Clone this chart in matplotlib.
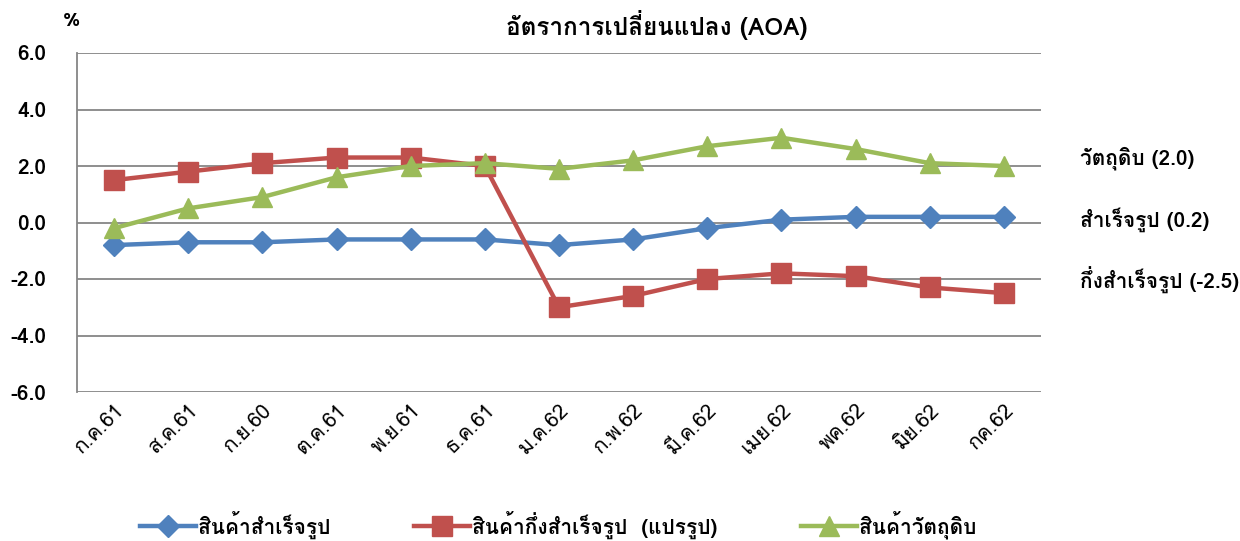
import matplotlib
matplotlib.use("Agg")
import matplotlib.pyplot as plt
from matplotlib import font_manager
from matplotlib.ft2font import FT2Font

categories = ["ก.ค.61", "ส.ค.61", "ก.ย.60", "ต.ค.61", "พ.ย.61", "ธ.ค.61", "ม.ค.62",
              "ก.พ.62", "มี.ค.62", "เมย.62", "พค.62", "มิย.62", "กค.62"]
finished = [-0.8, -0.7, -0.7, -0.6, -0.6, -0.6, -0.8, -0.6, -0.2, 0.1, 0.2, 0.2, 0.2]
semi = [1.5, 1.8, 2.1, 2.3, 2.3, 2.0, -3.0, -2.6, -2.0, -1.8, -1.9, -2.3, -2.5]
raw = [-0.2, 0.5, 0.9, 1.6, 2.0, 2.1, 1.9, 2.2, 2.7, 3.0, 2.6, 2.1, 2.0]
series_names = ["สินค้าสำเร็จรูป", "สินค้ากึ่งสำเร็จรูป  (แปรรูป)", "สินค้าวัตถุดิบ"]
yticks = [-6.0, -4.0, -2.0, 0.0, 2.0, 4.0, 6.0]
title = "อัตราการเปลี่ยนแปลง (AOA)"
notes = ["วัตถุดิบ (2.0)", "สำเร็จรูป (0.2)", "กึ่งสำเร็จรูป (-2.5)"]

# find a font with Thai glyphs
thai_family = None
seen = set()
for f in font_manager.fontManager.ttflist:
    if f.fname in seen:
        continue
    seen.add(f.fname)
    try:
        cm = FT2Font(f.fname).get_charmap()
    except Exception:
        continue
    if 0x0E01 in cm and 0x0E2A in cm:
        thai_family = f.name
        break
fams = ([thai_family] if thai_family else []) + ["DejaVu Sans"]
plt.rcParams["font.family"] = fams

fig = plt.figure(figsize=(12.4, 5.41), dpi=100)
ax = fig.add_axes([77/1240, 1 - 392/541, (1041-77)/1240, (392-53)/541])

x = list(range(len(categories)))
ax.plot(x, finished, color="#4F81BD", lw=3.2, marker="D", ms=11, label=series_names[0], zorder=3)
ax.plot(x, semi, color="#C0504D", lw=3.2, marker="s", ms=14, label=series_names[1], zorder=3)
ax.plot(x, raw, color="#9BBB59", lw=3.2, marker="^", ms=14, label=series_names[2], zorder=3)

ax.set_xlim(-0.5, len(categories) - 0.5)
ax.set_ylim(-6, 6)
ax.set_yticks(yticks)
ax.set_yticklabels([f"{v:.1f}" for v in yticks], fontsize=15, fontweight="bold")
ax.yaxis.grid(True, color="#868686", lw=1.3)
ax.set_axisbelow(True)
for s in ["top", "right", "bottom"]:
    ax.spines[s].set_visible(False)
ax.spines["left"].set_color("#868686")
ax.spines["left"].set_linewidth(1.3)
ax.tick_params(axis="y", length=0, pad=22)
ax.tick_params(axis="x", length=0, pad=6)
ax.set_xticks(x)
ax.set_xticklabels(categories, rotation=45, ha="right", rotation_mode="anchor", fontsize=15)

fig.text(657/1240, 1 - 25/541, title, ha="center", va="center", fontsize=17.5, fontweight="bold")
fig.text(72/1240, 1 - 21/541, "%", ha="center", va="center", fontsize=14, fontweight="bold")
for t, yp in zip(notes, [158, 220, 280]):
    fig.text(1080/1240, 1 - yp/541, t, ha="left", va="center", fontsize=15, fontweight="bold")

leg = fig.legend(loc="center left", bbox_to_anchor=(140/1240, 1 - 525/541), ncol=3, frameon=False,
                 handlelength=2.7, columnspacing=4.0, handletextpad=0.1,
                 prop={"weight": "bold", "size": 15}, borderaxespad=0, borderpad=0)
fig.savefig("out.png", dpi=100)
